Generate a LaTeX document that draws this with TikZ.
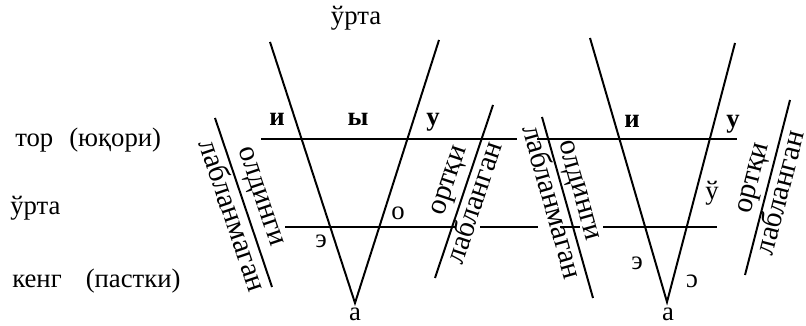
\documentclass[tikz,border=0pt]{standalone}
\usepackage{fontspec}
\setmainfont{Liberation Serif}
\usetikzlibrary{calc}
\newcommand\lfont{\fontsize{19}{22}\selectfont}
\tikzset{ln/.style={line width=1.4pt},
  vow/.style={anchor=base,inner sep=0pt},
  bvow/.style={vow,font=\lfont\bfseries},
  row/.style={anchor=base west,inner sep=0pt},
  tag/.style={sloped,inner sep=0pt,font=\fontsize{21}{24}\selectfont}}
\begin{document}
\begin{tikzpicture}[x=0.025cm,y=0.025cm,font=\lfont]
\useasboundingbox (0,0) rectangle (806,326);
% row names on the left
\node[row] (tor) at (15,179) {тор\hspace{.6em}(юқори)};
\node[row] (urta) at (10,111) {ўрта};
\node[row] (keng) at (12,38) {кенг\hspace{.9em}(пастки)};
\node[vow] (top) at (356,301) {ўрта};
% horizontal levels
\foreach \a/\b/\y in {261/517/187,537/737/187,285/455/99,480/538/99,560/580/99,603/717/99}
  \draw[ln] (\a,\y) -- (\b,\y);
% the two V's
\coordinate (va1) at (270,284); \coordinate (vb1) at (355,23); \coordinate (vc1) at (439,286);
\coordinate (va2) at (590,288); \coordinate (vb2) at (667,24); \coordinate (vc2) at (735,283);
\draw[ln] (va1) -- (vb1) -- (vc1);
\draw[ln] (va2) -- (vb2) -- (vc2);
% slanted strokes with their labels
\foreach \n/\ax/\ay/\bx/\by/\ta/\pa/\da/\tb/\pb/\db in {1/215/208/272/39/олдинги/.5/4/лабланмаган/.55/1,
    2/435/48/493/221/ортқи/.53/3/лабланган/.46/0,
    3/542/209/593/28/олдинги/.43/2/лабланмаган/.45/0,
    4/745/51/790/226/ортқи/.53/2/лабланган/.49/0}{
  \coordinate (s\n a) at (\ax,\ay); \coordinate (s\n b) at (\bx,\by);
  \draw[ln] (s\n a) -- (s\n b)
    node[tag,pos=\pa,above=\da pt] (up\n) {\ta}
    node[tag,pos=\pb,below=\db pt] (dn\n) {\tb};
}
% vowels, left V
\node[bvow] (i1) at (277,200) {и};
\node[bvow] (y1) at (358,200) {ы};
\node[bvow] (u1) at (433,200) {у};
\node[vow] (o1) at (398,106) {о};
\node[vow] (e1) at (321,78) {э};
\node[vow] (a1) at (355,5) {а};
% vowels, right V
\node[bvow] (i2) at (632,198) {и};
\node[bvow] (u2) at (733,198) {у};
\node[vow] (w2) at (712,126) {ў};
\node[vow] (e2) at (637,56) {э};
\node[vow] (c2) at (692,38) {ɔ};
\node[vow] (a2) at (668,5) {а};
\end{tikzpicture}
\end{document}
